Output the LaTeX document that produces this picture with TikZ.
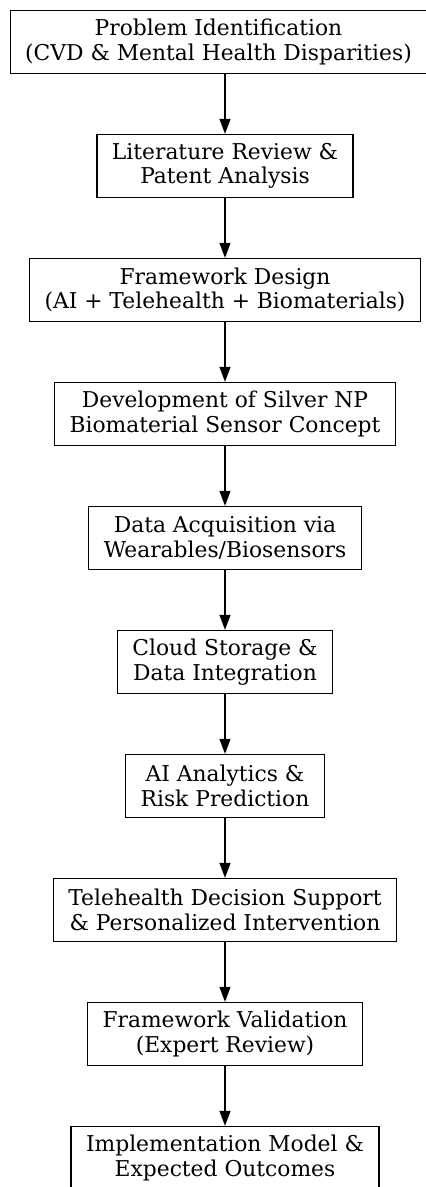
\documentclass[tikz,border=0pt]{standalone}
\usepackage{fontspec}
\setmainfont{DejaVu Serif}
\usetikzlibrary{positioning,arrows.meta}

\newcommand{\StepFont}{\fontsize{21.8}{24.5}\selectfont}

\begin{document}
\begin{tikzpicture}[x=1pt,y=1pt,
		StepBox/.style={draw, line width=1.3pt, align=center, minimum height=63pt, inner xsep=15pt, font=\StepFont},
		FlowArrow/.style={-{Triangle[length=15pt,width=11pt]}, line width=1.3pt}]
			\pgfmathsetmacro{\AxisX}{225}
			\pgfmathsetmacro{\StepGap}{59.7}
			\useasboundingbox (0,0) rectangle (426,-1187);
			
			\node[StepBox] (Problem) at (218.5,-42) {Problem Identification\\(CVD \& Mental Health Disparities)};
			\node[StepBox] (Literature) at (\AxisX,-166) {Literature Review \&\\Patent Analysis};
			\node[StepBox, below=\StepGap pt of Literature] (Design) {Framework Design\\(AI + Telehealth + Biomaterials)};
			\node[StepBox, below=\StepGap pt of Design] (Sensor) {Development of Silver NP\\Biomaterial Sensor Concept};
			\node[StepBox, below=\StepGap pt of Sensor] (Acquisition) {Data Acquisition via\\Wearables/Biosensors};
			\node[StepBox, below=\StepGap pt of Acquisition] (Cloud) {Cloud Storage \&\\Data Integration};
			\node[StepBox, below=\StepGap pt of Cloud] (Analytics) {AI Analytics \&\\Risk Prediction};
			\node[StepBox, below=\StepGap pt of Analytics] (Telehealth) {Telehealth Decision Support\\\& Personalized Intervention};
			\node[StepBox, below=\StepGap pt of Telehealth] (Validation) {Framework Validation\\(Expert Review)};
			\node[StepBox, below=\StepGap pt of Validation] (Implementation) {Implementation Model \&\\Expected Outcomes};
			
			\draw[FlowArrow] (Problem.south -| Literature) -- (Literature);
			\draw[FlowArrow] (Literature) -- (Design);
			\draw[FlowArrow] (Design) -- (Sensor);
			\draw[FlowArrow] (Sensor) -- (Acquisition);
			\draw[FlowArrow] (Acquisition) -- (Cloud);
			\draw[FlowArrow] (Cloud) -- (Analytics);
			\draw[FlowArrow] (Analytics) -- (Telehealth);
			\draw[FlowArrow] (Telehealth) -- (Validation);
			\draw[FlowArrow] (Validation) -- (Implementation);
		\end{tikzpicture}
\end{document}
